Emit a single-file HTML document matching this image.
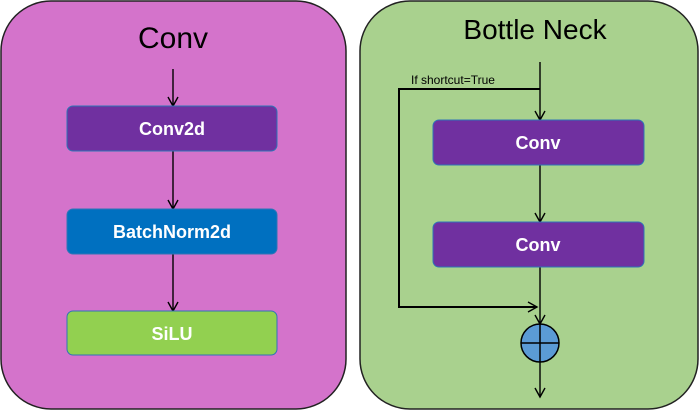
<!DOCTYPE html>
<html><head><style>body{margin:0;width:700px;height:411px;background:#fff;overflow:hidden}</style></head><body>
<svg width="700" height="411" viewBox="0 0 700 411" xmlns="http://www.w3.org/2000/svg" font-family="Liberation Sans, sans-serif">
<defs><marker id="a" markerWidth="12" markerHeight="12" refX="10" refY="6" orient="auto" markerUnits="userSpaceOnUse"><path d="M1,1 L10,6 L1,11" fill="none" stroke="#000" stroke-width="1.4"/></marker></defs>
<rect x="1" y="1" width="345" height="408" rx="50" fill="#d473cb" stroke="#222" stroke-width="1.5"/>
<rect x="360" y="1" width="338" height="408" rx="50" fill="#a9d18e" stroke="#222" stroke-width="1.5"/>
<text x="173" y="48" font-size="30" text-anchor="middle" textLength="70" lengthAdjust="spacingAndGlyphs">Conv</text>
<text x="535" y="39" font-size="28" text-anchor="middle">Bottle Neck</text>
<g stroke="#000" stroke-width="1.4" fill="none">
<line x1="173" y1="69" x2="173" y2="106" marker-end="url(#a)"/>
<line x1="173" y1="151" x2="173" y2="209" marker-end="url(#a)"/>
<line x1="173" y1="254" x2="173" y2="311" marker-end="url(#a)"/>
<line x1="540" y1="62" x2="540" y2="120" marker-end="url(#a)"/>
<line x1="540" y1="165" x2="540" y2="222" marker-end="url(#a)"/>
<line x1="540" y1="267" x2="540" y2="324" marker-end="url(#a)"/>
<line x1="540" y1="362" x2="540" y2="397" marker-end="url(#a)"/>
<polyline points="540,89 399,89 399,307 537,307" stroke-width="2" marker-end="url(#a)"/>
</g>
<g stroke="#2e75b6" stroke-width="1">
<rect x="67" y="106" width="210" height="45" rx="6" fill="#7030a0"/>
<rect x="67" y="209" width="210" height="45" rx="6" fill="#0070c0"/>
<rect x="67" y="311" width="210" height="44" rx="6" fill="#92d050"/>
<rect x="433" y="120" width="211" height="45" rx="6" fill="#7030a0"/>
<rect x="433" y="222" width="211" height="45" rx="6" fill="#7030a0"/>
</g>
<g fill="#fff" font-weight="bold" font-size="18" text-anchor="middle">
<text x="172" y="135">Conv2d</text>
<text x="172" y="238">BatchNorm2d</text>
<text x="172" y="340">SiLU</text>
<text x="538" y="149">Conv</text>
<text x="538" y="251">Conv</text>
</g>
<text x="411" y="84" font-size="12">If shortcut=True</text>
<circle cx="540" cy="343" r="19" fill="#5b9bd5" stroke="#000" stroke-width="1.5"/>
<line x1="521" y1="343" x2="559" y2="343" stroke="#000" stroke-width="1.5"/>
<line x1="540" y1="324" x2="540" y2="362" stroke="#000" stroke-width="1.5"/>
</svg>
</body></html>
